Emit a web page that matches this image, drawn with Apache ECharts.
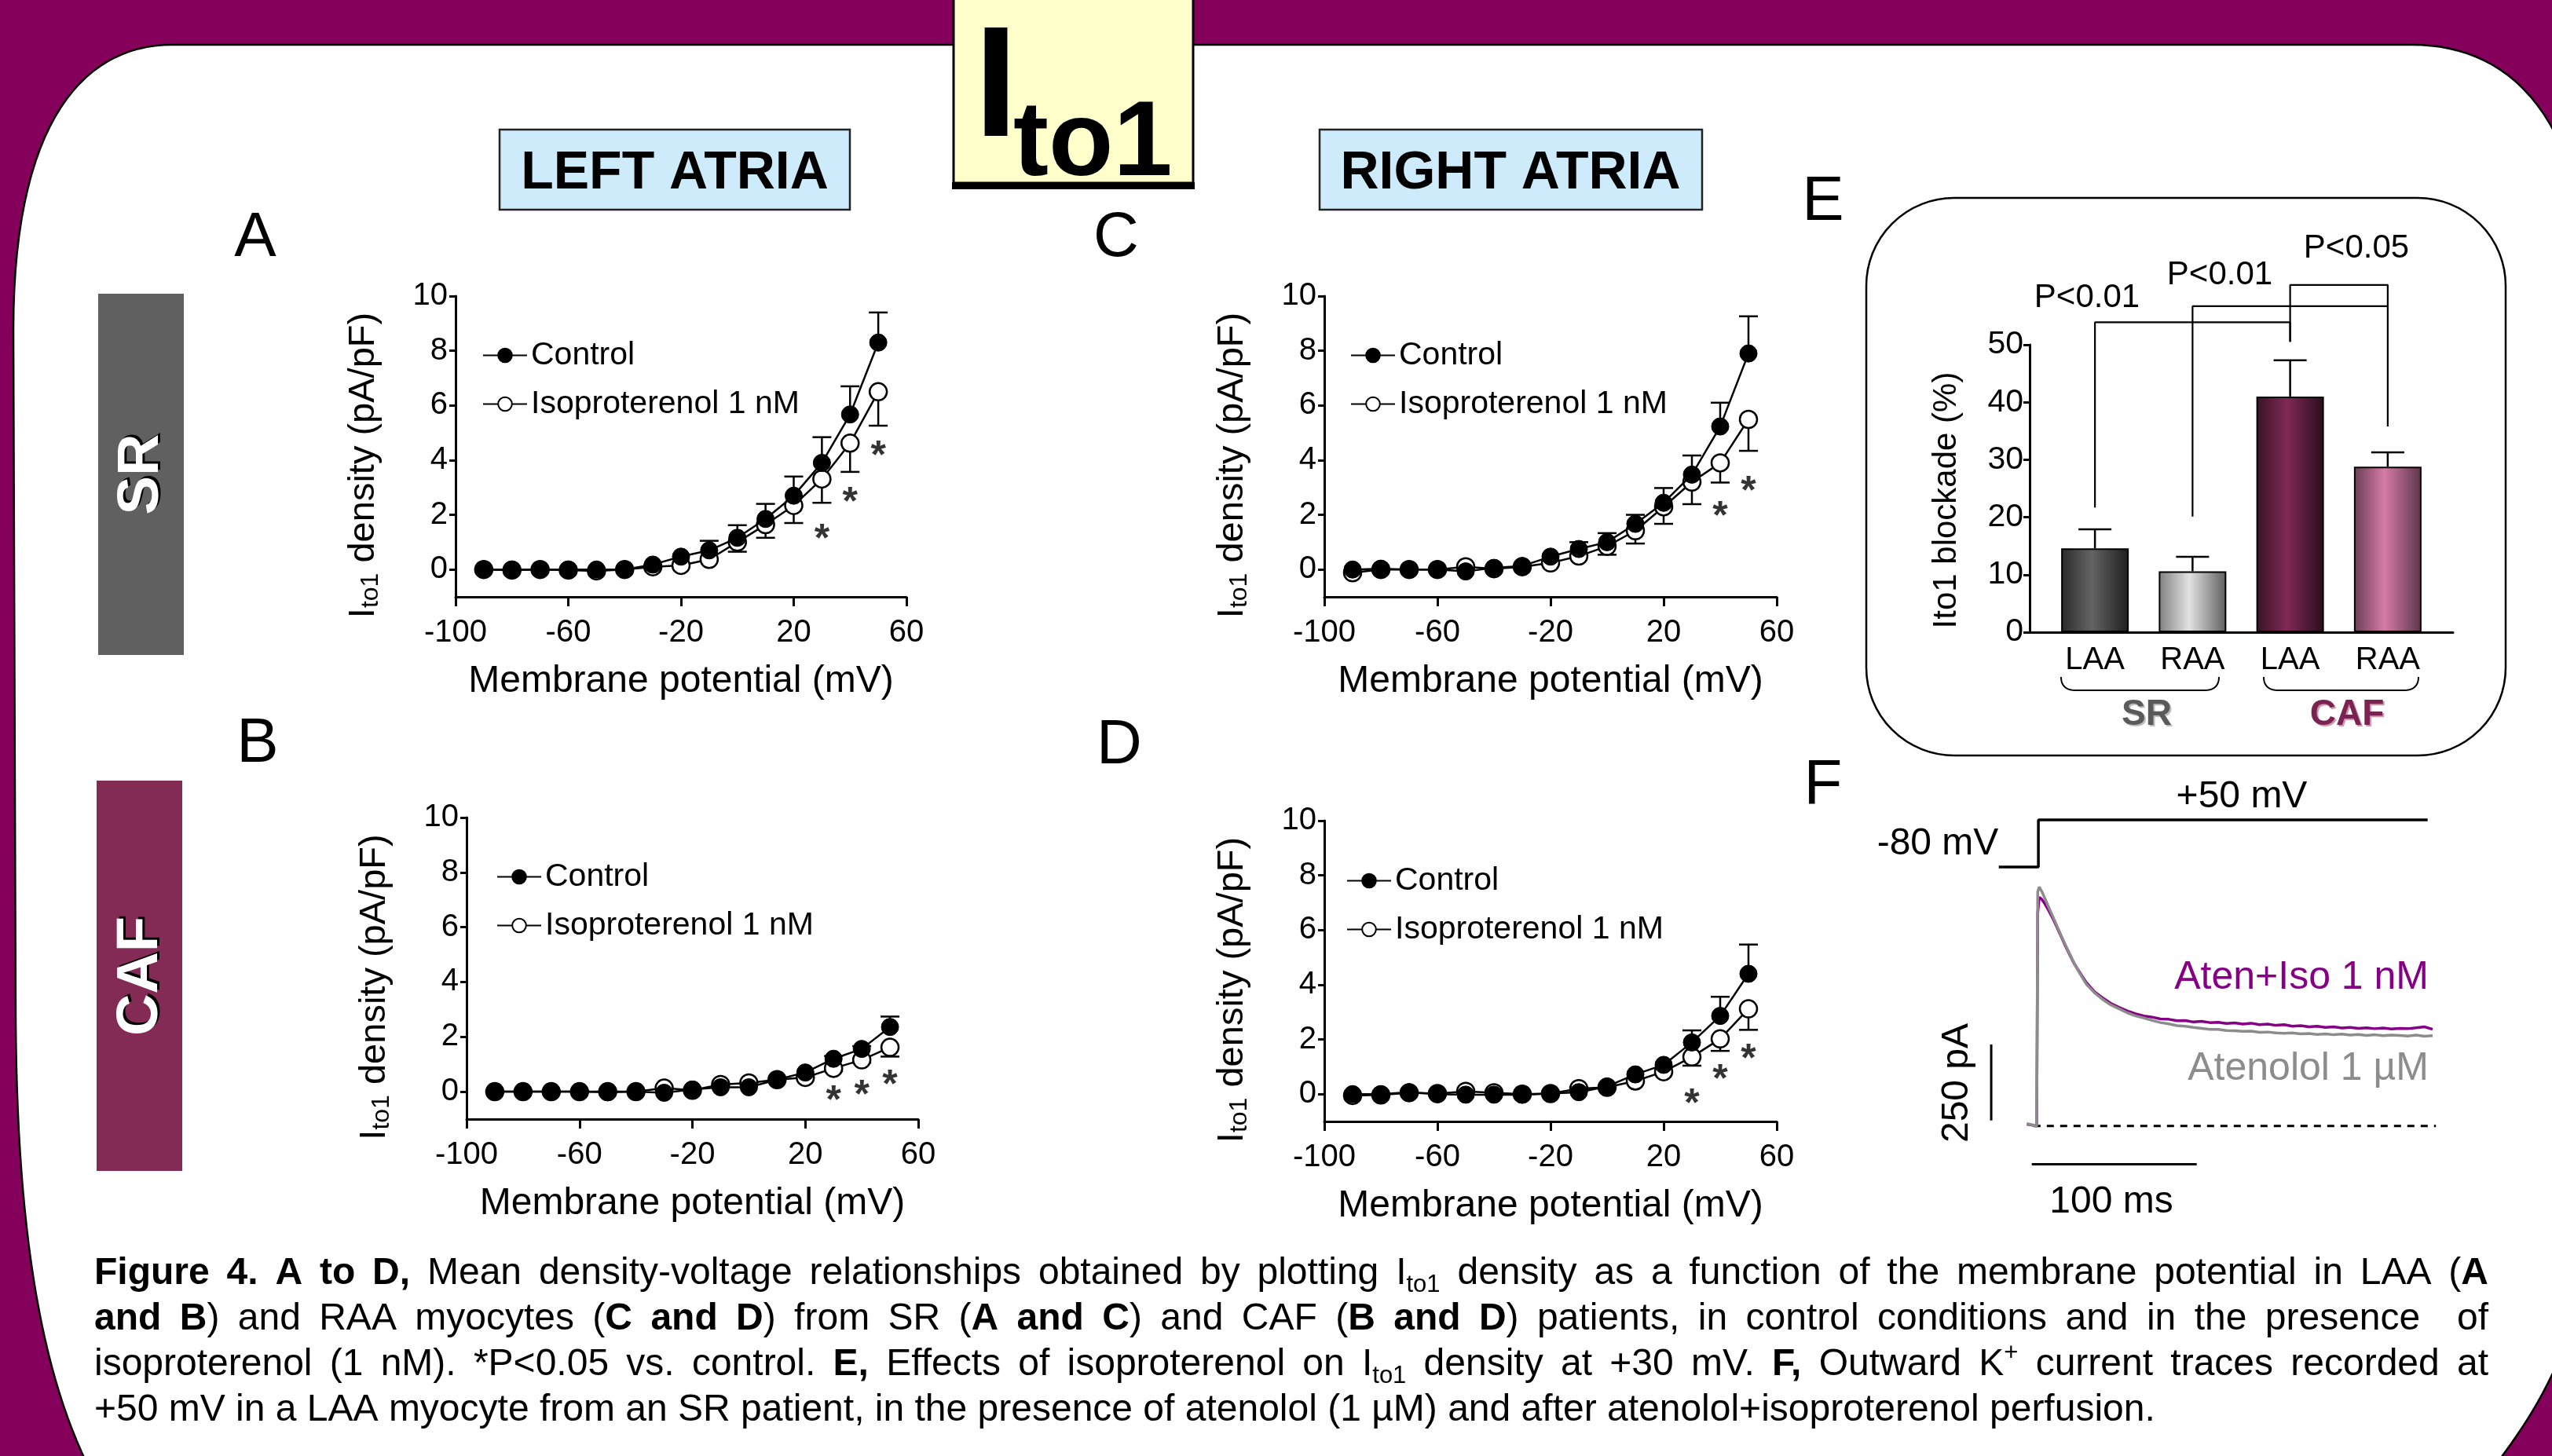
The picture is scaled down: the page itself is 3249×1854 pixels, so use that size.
<!DOCTYPE html>
<html>
<head>
<meta charset="utf-8">
<script src="https://cdn.jsdelivr.net/npm/echarts@6/dist/echarts.min.js"></script>
<style>
html, body { margin: 0; padding: 0; background: #85005a; }
#main { width: 3249px; height: 1854px; }
</style>
</head>
<body>
<div id="main"></div>
<script>
var FONT = "'Liberation Sans', Arial, sans-serif";

// membrane potentials (mV)
var volt = [-90, -80, -70, -60, -50, -40, -30, -20, -10, 0, 10, 20, 30, 40, 50];

// A - LAA, SR
var aCtrl    = [0, 0, 0, 0, 0, 0, 0.18, 0.47, 0.7, 1.16, 1.85, 2.7, 3.9, 5.67, 8.3];
var aCtrlErr = [0, 0, 0, 0, 0, 0, 0, 0, 0.35, 0.46, 0.55, 0.7, 0.94, 1.03, 1.1];
var aIso     = [0, -0.02, 0, -0.02, -0.05, 0, 0.1, 0.15, 0.37, 1.0, 1.64, 2.34, 3.31, 4.62, 6.5];
var aIsoErr  = [0, 0, 0, 0, 0, 0, 0, 0, 0, 0.35, 0.48, 0.64, 0.87, 1.05, 1.24];
var aStarX = [30, 40, 50];
var aStarY = [1.4, 2.75, 4.45];

// B - LAA, CAF
var bCtrl    = [0, 0, 0, 0, -0.02, 0, -0.04, 0.08, 0.16, 0.16, 0.44, 0.7, 1.2, 1.56, 2.36];
var bCtrlErr = [0, 0, 0, 0, 0, 0, 0, 0, 0, 0, 0, 0, 0.1, 0.1, 0.38];
var bIso     = [0, 0, 0, 0, 0, 0, 0.13, 0.05, 0.26, 0.32, 0.44, 0.52, 0.85, 1.16, 1.62];
var bIsoErr  = [0, 0, 0, 0, 0, 0, 0, 0, 0, 0, 0, 0, 0.1, 0.1, 0.34];
var bStarX = [30, 40, 50];
var bStarY = [-0.02, 0.18, 0.54];

// C - RAA, SR
var cCtrl    = [0, 0.03, 0, 0, -0.07, 0.06, 0.13, 0.47, 0.75, 1.0, 1.67, 2.44, 3.47, 5.23, 7.9];
var cCtrlErr = [0, 0, 0, 0, 0, 0, 0, 0, 0.25, 0.33, 0.33, 0.54, 0.7, 0.87, 1.36];
var cIso     = [-0.12, 0, 0, 0, 0.1, 0.03, 0.1, 0.24, 0.49, 0.85, 1.42, 2.29, 3.2, 3.9, 5.49];
var cIsoErr  = [0, 0, 0, 0, 0, 0, 0, 0, 0, 0.31, 0.47, 0.62, 0.81, 0.72, 1.15];
var cStarX = [40, 50];
var cStarY = [2.24, 3.16];

// D - RAA, CAF
var dCtrl    = [0, 0, 0.07, 0, -0.02, -0.02, -0.02, 0.02, 0.07, 0.28, 0.72, 1.07, 1.89, 2.86, 4.4];
var dCtrlErr = [0, 0, 0, 0, 0, 0, 0, 0, 0, 0, 0, 0, 0.44, 0.7, 1.07];
var dIso     = [-0.05, -0.03, 0.05, 0.02, 0.1, 0.05, 0, 0.02, 0.2, 0.25, 0.48, 0.82, 1.36, 2.02, 3.12];
var dIsoErr  = [0, 0, 0, 0, 0, 0, 0, 0, 0, 0, 0, 0, 0.32, 0.44, 0.77];
var dStarX = [30, 40, 50];
var dStarY = [-0.05, 0.82, 1.58];

// E - Ito1 blockade (%)
var eCats = ['LAA', 'RAA', 'LAA', 'RAA'];
var eVals = [14.6, 10.6, 41.0, 28.8];
var eErr  = [3.3, 2.5, 6.3, 2.5];
var bracket1 = [[0, 21.7], [0, 53.9], [2, 53.9], [2, 50.5]];
var bracket2 = [[1, 20.1], [1, 56.7], [3, 56.7], [3, 35.8]];
var bracket3 = [[2, 50.5], [2, 60.4], [3, 60.4], [3, 56.7]];

// F - current traces (ms, pA)
var traceT = [-6, -3, 0, 0.6, 1.5, 3, 5, 7.5, 10, 12.5, 15, 17.5, 20, 22.5, 25, 27.5, 30, 35, 40, 45, 50, 55, 60, 65, 70, 75, 80, 85, 90, 95, 100, 105, 110, 115, 120, 125, 130, 135, 140, 145, 150, 155, 160, 165, 170, 175, 180, 185, 190, 195, 200, 205, 210, 215, 220, 225, 230, 235, 240];
var atenI = [8, 4, 0, 770, 786, 772, 748, 716, 686, 655, 624, 594, 566, 538, 512, 489, 467, 438, 416, 398, 385, 372, 362, 355, 347, 340, 336, 330, 328, 324, 321, 318, 318, 314, 313, 311, 312, 308, 309, 306, 305, 306, 303, 304, 301, 303, 300, 302, 299, 301, 298, 300, 297, 299, 298, 296, 299, 295, 297];
var isoI  = [6, 3, 0, 700, 752, 746, 730, 706, 680, 651, 621, 591, 563, 536, 514, 493, 472, 441, 421, 403, 390, 378, 369, 362, 358, 352, 351, 346, 347, 342, 344, 340, 341, 337, 339, 335, 338, 333, 335, 331, 333, 328, 330, 326, 328, 324, 326, 322, 324, 321, 323, 320, 322, 319, 321, 320, 323, 326, 318];
var baseline = [[-2, 0], [242, 0]];
var scaleBarPA = [[-27.6, 18], [-27.6, 268]];
var scaleBarMs = [[-3, -126], [97, -126]];
var protocol = [[-23, -80], [1, -80], [1, 50], [237, 50]];

var chart = echarts.init(document.getElementById('main'));

function pairs(xs, ys) { return xs.map(function (x, i) { return [x, ys[i]]; }); }

// outline helpers for the decorative frame
function cubicPts(p0, p1, p2, p3, n) {
  var out = [];
  for (var k = 1; k <= n; k++) {
    var t = k / n, u = 1 - t;
    out.push([u*u*u*p0[0] + 3*u*u*t*p1[0] + 3*u*t*t*p2[0] + t*t*t*p3[0],
              u*u*u*p0[1] + 3*u*u*t*p1[1] + 3*u*t*t*p2[1] + t*t*t*p3[1]]);
  }
  return out;
}
function framePts() {
  var pts = [[219, 57], [3071, 57]];
  pts = pts.concat(cubicPts([3071, 57], [3190, 57], [3300, 140], [3300, 420], 30));
  pts.push([3300, 1500]);
  pts = pts.concat(cubicPts([3300, 1500], [3300, 1700], [3230, 1800], [3150, 1900], 30));
  pts.push([130, 1900]);
  pts = pts.concat(cubicPts([130, 1900], [60, 1780], [22, 1600], [20, 1300], 30));
  pts.push([17, 420]);
  pts = pts.concat(cubicPts([17, 420], [17, 150], [110, 57], [219, 57], 30));
  return pts;
}
function bracePts(x0, x1, yTop, yBot) {
  var r = 18;
  var pts = [[x0, yTop]];
  pts = pts.concat(cubicPts([x0, yTop], [x0, yBot - 6], [x0 + 6, yBot], [x0 + r, yBot], 10));
  pts.push([x1 - r, yBot]);
  pts = pts.concat(cubicPts([x1 - r, yBot], [x1 - 6, yBot], [x1, yBot - 6], [x1, yTop], 10));
  return pts;
}

function errBars(gi, ys, errs, sign, xs, cap) {
  var data = [];
  xs.forEach(function (x, i) { if (errs[i] > 0) data.push([x, ys[i], ys[i] + sign * errs[i]]); });
  return {
    type: 'custom', xAxisIndex: gi, yAxisIndex: gi, z: 1, silent: true, clip: false,
    encode: { x: 0, y: [1, 2] },
    data: data,
    renderItem: function (params, api) {
      var p0 = api.coord([api.value(0), api.value(1)]);
      var p1 = api.coord([api.value(0), api.value(2)]);
      return {
        type: 'group', children: [
          { type: 'line', shape: { x1: p0[0], y1: p0[1], x2: p1[0], y2: p1[1] }, style: { stroke: '#000', lineWidth: 2.5 } },
          { type: 'line', shape: { x1: p1[0] - cap, y1: p1[1], x2: p1[0] + cap, y2: p1[1] }, style: { stroke: '#000', lineWidth: 2.5 } }
        ]
      };
    }
  };
}

function ivSeries(gi, ctrl, ctrlErr, iso, isoErr, starX, starY) {
  return [
    errBars(gi, ctrl, ctrlErr, 1, volt, 12),
    errBars(gi, iso, isoErr, -1, volt, 12),
    {
      name: 'Isoproterenol 1 nM', type: 'line', xAxisIndex: gi, yAxisIndex: gi, z: 3,
      data: pairs(volt, iso), symbol: 'circle', symbolSize: 22,
      itemStyle: { color: '#fff', borderColor: '#000', borderWidth: 2.5 },
      lineStyle: { color: '#000', width: 2.5 }
    },
    {
      name: 'Control', type: 'line', xAxisIndex: gi, yAxisIndex: gi, z: 4,
      data: pairs(volt, ctrl), symbol: 'circle', symbolSize: 22,
      itemStyle: { color: '#000', borderColor: '#000', borderWidth: 1 },
      lineStyle: { color: '#000', width: 2.5 }
    },
    {
      type: 'scatter', xAxisIndex: gi, yAxisIndex: gi, z: 5, silent: true,
      data: pairs(starX, starY), symbolSize: 0,
      label: { show: true, position: 'inside', formatter: '*', fontSize: 50, fontWeight: 'bold', color: '#000', fontFamily: FONT, offset: [0, 12] }
    }
  ];
}

var grids = [
  { left: 580, top: 377, width: 574, height: 383 },
  { left: 594, top: 1041, width: 575, height: 384 },
  { left: 1686, top: 377, width: 576, height: 383 },
  { left: 1686, top: 1045, width: 576, height: 383 },
  { left: 2605, top: 439, width: 497, height: 366 },
  { left: 2584, top: 439, width: 539, height: 366 },
  { left: 2530, top: 1124, width: 577.5, height: 364 },
  { left: 2530, top: 1039.4, width: 577.5, height: 69.2 }
];

var ivName = '{i|I}{s|to1}{i| density (pA/pF)}';
var axisBlack = { lineStyle: { color: '#000', width: 3 }, onZero: false };

function ivX(gi) {
  return {
    type: 'value', gridIndex: gi, min: -100, max: 60, interval: 40,
    axisLine: axisBlack,
    axisTick: { length: 12, lineStyle: { color: '#000', width: 3 } },
    axisLabel: { fontSize: 40, color: '#000', fontFamily: FONT, margin: 26 },
    splitLine: { show: false },
    name: 'Membrane potential (mV)', nameLocation: 'middle', nameGap: 84,
    nameTextStyle: { fontSize: 48, color: '#000', fontFamily: FONT }
  };
}
function ivY(gi) {
  return {
    type: 'value', gridIndex: gi, min: -1, max: 10,
    axisLine: axisBlack,
    axisTick: { length: 8, lineStyle: { color: '#000', width: 3 }, customValues: [0, 2, 4, 6, 8, 10] },
    axisLabel: { fontSize: 40, color: '#000', fontFamily: FONT, margin: 10, customValues: [0, 2, 4, 6, 8, 10] },
    splitLine: { show: false },
    name: ivName, nameLocation: 'middle', nameGap: 92,
    nameTextStyle: {
      color: '#000', fontFamily: FONT, fontSize: 47, padding: [0, 48, 0, 0],
      rich: {
        i: { fontSize: 47, fontFamily: FONT, color: '#000', lineHeight: 50 },
        s: { fontSize: 32, fontFamily: FONT, color: '#000', lineHeight: 24, verticalAlign: 'bottom' }
      }
    }
  };
}

function legendAt(left, top) {
  return {
    data: ['Control', 'Isoproterenol 1 nM'], orient: 'vertical', left: left, top: top,
    itemWidth: 56, itemHeight: 22, itemGap: 21, selectedMode: false,
    textStyle: { fontSize: 41, color: '#000', fontFamily: FONT }
  };
}

var eColors = [
  ['#2a2a2a', '#646464', '#1e1e1e'],
  ['#808080', '#e2e2e2', '#5e5e5e'],
  ['#3a1226', '#7f2a55', '#2c0c1c'],
  ['#6a3d55', '#d57ba6', '#5c3549']
];
function grad(c) {
  return {
    type: 'linear', x: 0, y: 0, x2: 1, y2: 0,
    colorStops: [{ offset: 0, color: c[0] }, { offset: 0.45, color: c[1] }, { offset: 1, color: c[2] }]
  };
}

function bracket(data) {
  return {
    type: 'line', xAxisIndex: 4, yAxisIndex: 4, data: data, symbol: 'none', clip: false, silent: true,
    lineStyle: { color: '#000', width: 2.2 }, z: 3
  };
}

function txt(x, y, text, size, opts) {
  opts = opts || {};
  var st = {
    text: text, fontSize: size, fontFamily: FONT, fontWeight: opts.bold ? 'bold' : 'normal',
    fill: opts.color || '#000', align: opts.align || 'center', verticalAlign: 'middle'
  };
  if (opts.shadow) {
    st.textShadowColor = opts.shadow; st.textShadowOffsetX = opts.sx; st.textShadowOffsetY = opts.sy; st.textShadowBlur = 0.1;
  }
  return { type: 'text', x: x, y: y, z: 100, rotation: opts.rot || 0, style: st };
}

// caption, justified like the printed figure legend
var CAP = 48, CAPSUB = 31;
var capLines = [
  [['b', 'Figure 4. A to D,'], ['n', ' Mean density-voltage relationships obtained by plotting I'], ['s', 'to1'], ['n', ' density as a function of the membrane potential in LAA ('], ['b', 'A']],
  [['b', 'and B'], ['n', ') and RAA myocytes ('], ['b', 'C and D'], ['n', ') from SR ('], ['b', 'A and C'], ['n', ') and CAF ('], ['b', 'B and D'], ['n', ') patients, in control conditions and in the presence  of']],
  [['n', 'isoproterenol (1 nM). *P<0.05 vs. control. '], ['b', 'E,'], ['n', ' Effects of isoproterenol on I'], ['s', 'to1'], ['n', ' density at +30 mV. '], ['b', 'F,'], ['n', ' Outward K'], ['u', '+'], ['n', ' current traces recorded at']],
  [['n', '+50 mV in a LAA myocyte from an SR patient, in the presence of atenolol (1 \u00b5M) and after atenolol+isoproterenol perfusion.']]
];
var capJustify = [true, true, true, false];
var capY = [1622, 1680, 1738, 1796];
var capLeft = 120, capRight = 3168;

var measureCtx = document.createElement('canvas').getContext('2d');
function fontOf(st) {
  var size = (st === 's' || st === 'u') ? CAPSUB : CAP;
  return (st === 'b' ? 'bold ' : '') + size + 'px ' + FONT;
}
function measure(st, s) { measureCtx.font = fontOf(st); return measureCtx.measureText(s).width; }

function buildCaption(segs, justify, li) {
  var natural = 0, nSpaces = 0;
  segs.forEach(function (sg) {
    natural += measure(sg[0], sg[1]);
    nSpaces += (sg[1].match(/ /g) || []).length;
  });
  var spaceW = measure('n', ' ');
  var extra = justify && nSpaces ? (capRight - capLeft - natural) / nSpaces : 0;
  var key = 'sp' + li;
  var out = '';
  segs.forEach(function (sg) {
    var parts = sg[1].split(' ');
    parts.forEach(function (w, k) {
      if (k > 0) out += '{' + key + '| }';
      if (w.length) out += '{' + sg[0] + '|' + w + '}';
    });
  });
  return { text: out, key: key, width: spaceW + extra };
}

var capRich = {
  n: { fontSize: CAP, fontFamily: FONT, fill: '#000', lineHeight: 60 },
  b: { fontSize: CAP, fontWeight: 'bold', fontFamily: FONT, fill: '#000', lineHeight: 60 },
  s: { fontSize: CAPSUB, fontFamily: FONT, fill: '#000', lineHeight: 24, verticalAlign: 'bottom' },
  u: { fontSize: CAPSUB, fontFamily: FONT, fill: '#000', lineHeight: 24, verticalAlign: 'top' }
};

var graphics = [
  { type: 'polygon', z: -5, shape: { points: framePts() }, style: { fill: '#fff', stroke: '#000', lineWidth: 2.5 } },
  { type: 'rect', z: -4, shape: { x: 1214, y: -10, width: 305, height: 243 }, style: { fill: '#ffffcc', stroke: '#000', lineWidth: 3 } },
  { type: 'rect', z: -4, shape: { x: 1212, y: 232, width: 309, height: 9 }, style: { fill: '#000' } },
  { type: 'rect', z: -4, shape: { x: 636, y: 165, width: 446, height: 102 }, style: { fill: '#cdebfb', stroke: '#222', lineWidth: 2.5 } },
  { type: 'rect', z: -4, shape: { x: 1680, y: 165, width: 487, height: 102 }, style: { fill: '#cdebfb', stroke: '#222', lineWidth: 2.5 } },
  { type: 'rect', z: -4, shape: { x: 125, y: 374, width: 109, height: 460 }, style: { fill: '#606060' } },
  { type: 'rect', z: -4, shape: { x: 123, y: 994, width: 109, height: 497 }, style: { fill: '#832a55' } },
  { type: 'rect', z: -4, shape: { x: 2376, y: 252, width: 814, height: 710, r: 112 }, style: { fill: '#fff', stroke: '#000', lineWidth: 2.5 } },
  // braces under panel E
  { type: 'polyline', z: 10, shape: { points: bracePts(2624, 2825, 862, 879) }, style: { fill: null, stroke: '#000', lineWidth: 2 } },
  { type: 'polyline', z: 10, shape: { points: bracePts(2882, 3079, 862, 879) }, style: { fill: null, stroke: '#000', lineWidth: 2 } },

  txt(1268, 118, 'I', 200, { bold: true }),
  txt(1290, 186, 'to1', 135, { bold: true, align: 'left' }),
  txt(859, 221, 'LEFT ATRIA', 68, { bold: true }),
  txt(1923, 221, 'RIGHT ATRIA', 68, { bold: true }),
  txt(181, 604, 'SR', 74, { bold: true, color: '#fff', rot: Math.PI / 2, shadow: '#000', sx: 3, sy: -3 }),
  txt(180, 1243, 'CAF', 74, { bold: true, color: '#fff', rot: Math.PI / 2, shadow: '#000', sx: 3, sy: -3 }),
  txt(325, 304, 'A', 80),
  txt(328, 948, 'B', 80),
  txt(1421, 304, 'C', 80),
  txt(1425, 950, 'D', 80),
  txt(2321, 258, 'E', 80),
  txt(2321, 1001, 'F', 80),
  txt(2657, 379, 'P<0.01', 42),
  txt(2826, 350, 'P<0.01', 42),
  txt(3000, 316, 'P<0.05', 42),
  txt(2733, 910, 'SR', 46, { bold: true, color: '#5a5a5a', shadow: '#bbb', sx: 2, sy: 2 }),
  txt(2988, 910, 'CAF', 46, { bold: true, color: '#7a2352', shadow: '#c9a', sx: 2, sy: 2 }),
  txt(2467, 1075, '-80 mV', 48),
  txt(2854, 1015, '+50 mV', 48),
  txt(2492, 1379, '250 pA', 48, { rot: Math.PI / 2 }),
  txt(2688, 1531, '100 ms', 48),
  txt(3092, 1245, 'Aten+Iso 1 nM', 50, { color: '#850085', align: 'right' }),
  txt(3092, 1361, 'Atenolol 1 \u00b5M', 50, { color: '#8c8c8c', align: 'right' })
];
capLines.forEach(function (segs, i) {
  var built = buildCaption(segs, capJustify[i], i);
  var rich = Object.assign({}, capRich);
  rich[built.key] = { fontSize: CAP, fontFamily: FONT, width: built.width, lineHeight: 60 };
  graphics.push({
    type: 'text', x: capLeft, y: capY[i], z: 100,
    style: { text: built.text, fontSize: CAP, fontFamily: FONT, fill: '#000', align: 'left', verticalAlign: 'middle', lineHeight: 60, rich: rich }
  });
});

var series = []
  .concat(ivSeries(0, aCtrl, aCtrlErr, aIso, aIsoErr, aStarX, aStarY))
  .concat(ivSeries(1, bCtrl, bCtrlErr, bIso, bIsoErr, bStarX, bStarY))
  .concat(ivSeries(2, cCtrl, cCtrlErr, cIso, cIsoErr, cStarX, cStarY))
  .concat(ivSeries(3, dCtrl, dCtrlErr, dIso, dIsoErr, dStarX, dStarY));

series.push({
  type: 'bar', xAxisIndex: 4, yAxisIndex: 4, barWidth: 86, z: 2,
  data: eVals.map(function (v, i) { return { value: v, itemStyle: { color: grad(eColors[i]) } }; }),
  itemStyle: { borderColor: '#000', borderWidth: 2 }
});
series.push(errBars(4, eVals, eErr, 1, [0, 1, 2, 3], 21));
series.push(bracket(bracket1), bracket(bracket2), bracket(bracket3));

series.push({
  type: 'line', xAxisIndex: 6, yAxisIndex: 6, data: pairs(traceT, isoI), symbol: 'none', clip: false,
  lineStyle: { color: '#850085', width: 3.5 }, z: 3
});
series.push({
  type: 'line', xAxisIndex: 6, yAxisIndex: 6, data: pairs(traceT, atenI), symbol: 'none', clip: false,
  lineStyle: { color: '#8c8c8c', width: 3.5 }, z: 4
});
series.push({
  type: 'line', xAxisIndex: 6, yAxisIndex: 6, data: baseline, symbol: 'none', clip: false,
  lineStyle: { color: '#000', width: 3, type: [9, 8] }, z: 2
});
series.push({
  type: 'line', xAxisIndex: 6, yAxisIndex: 6, data: scaleBarPA, symbol: 'none', clip: false,
  lineStyle: { color: '#000', width: 3 }
});
series.push({
  type: 'line', xAxisIndex: 6, yAxisIndex: 6, data: scaleBarMs, symbol: 'none', clip: false,
  lineStyle: { color: '#000', width: 3 }
});
series.push({
  type: 'line', xAxisIndex: 7, yAxisIndex: 7, data: protocol, symbol: 'none', clip: false,
  lineStyle: { color: '#000', width: 3.5 }
});

var hidden = { show: false };

chart.setOption({
  animation: false,
  backgroundColor: '#85005a',
  textStyle: { fontFamily: FONT },
  graphic: graphics,
  grid: grids,
  legend: [legendAt(609, 427), legendAt(627, 1091), legendAt(1714, 427), legendAt(1709, 1096)],
  xAxis: [
    ivX(0), ivX(1), ivX(2), ivX(3),
    {
      type: 'category', gridIndex: 4, data: eCats,
      axisLine: { show: false }, axisTick: { show: false },
      axisLabel: { fontSize: 40, color: '#000', fontFamily: FONT, margin: 16 }
    },
    { type: 'value', gridIndex: 5, min: 0, max: 1, axisLine: { lineStyle: { color: '#000', width: 3 } }, axisTick: hidden, axisLabel: hidden, splitLine: hidden },
    { type: 'value', gridIndex: 6, min: -30, max: 245, show: false },
    { type: 'value', gridIndex: 7, min: -30, max: 245, show: false }
  ],
  yAxis: [
    ivY(0), ivY(1), ivY(2), ivY(3),
    {
      type: 'value', gridIndex: 4, min: 0, max: 50, interval: 10, offset: 21,
      axisLine: { show: true, lineStyle: { color: '#000', width: 3 } },
      axisTick: { show: true, length: 8, lineStyle: { color: '#000', width: 3 } },
      axisLabel: { fontSize: 41, color: '#000', fontFamily: FONT, margin: 8 },
      splitLine: hidden,
      name: 'Ito1 blockade (%)', nameLocation: 'middle', nameGap: 85,
      nameTextStyle: { fontSize: 42, color: '#000', fontFamily: FONT, padding: [0, 30, 0, 0] }
    },
    { type: 'value', gridIndex: 5, show: false },
    { type: 'value', gridIndex: 6, min: -140, max: 800, show: false },
    { type: 'value', gridIndex: 7, min: -90, max: 60, show: false }
  ],
  series: series
});
</script>
</body>
</html>
